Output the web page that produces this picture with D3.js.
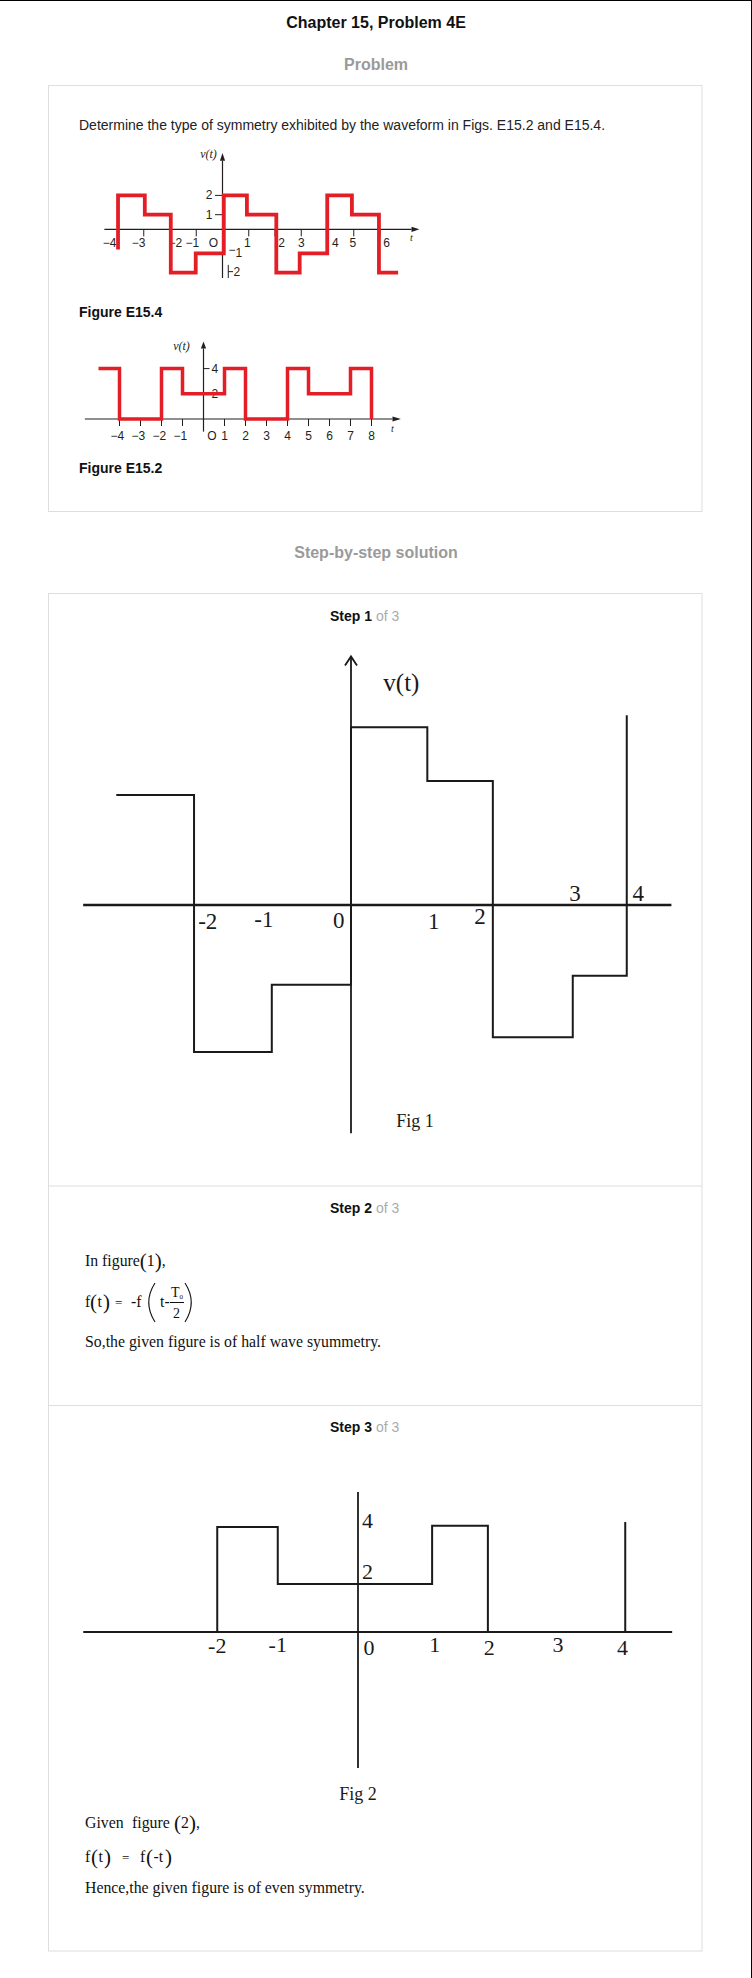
<!DOCTYPE html>
<html><head><meta charset="utf-8">
<script src="https://cdn.jsdelivr.net/npm/d3@7"></script>
<style>
html,body{margin:0;padding:0;background:#fff;}
svg{display:block;}
</style></head><body>
<svg id="page" width="752" height="1978"></svg>
<script>
// ================= DATA =================
// Figure E15.4 (textbook): step waveform vertices (t, v) drawn with step-after
const e154T = [-3.98, -3.98, -2.96, -1.97, -1.02, 0.05, 0.93, 2.05, 2.94, 3.99, 4.93, 5.96, 6.69];
const e154V = [-0.8, 2, 1, -2, -1, 2, 1, -2, -1, 2, 1, -2, -2];
const e154Ticks = [-4, -3, -2, -1, 1, 2, 3, 4, 5, 6];
const e154XLabels = ["−4", "−3", "−2", "−1", "O", "1", "2", "3", "4", "5", "6"];
const e154XLabelAt = [-4.3, -3.2, -1.8, -1.15, -0.35, 0.95, 2.25, 3.0, 4.3, 4.97, 6.25];
const e154YTicks = [2, 1];
const e154YLabels = ["2", "1"];

// Figure E15.2 (textbook)
const e152T = [-5, -4, -2, -1, 1, 2, 4, 5, 7, 8];
const e152V = [4, 0, 4, 2, 4, 0, 4, 2, 4, 0];
const e152Ticks = [-4, -3, -2, -1, 1, 2, 3, 4, 5, 6, 7, 8];
const e152XLabels = ["−4", "−3", "−2", "−1", "O", "1", "2", "3", "4", "5", "6", "7", "8"];
const e152XLabelAt = [-4.1, -3.1, -2.1, -1.1, 0.4, 1, 2, 3, 4, 5, 6, 7, 8];
const e152YTicks = [4, 2];
const e152YLabels = ["4", "2"];

// Step 1, Fig 1 (hand drawn)
const fig1T = [-3.26, -2.18, -1.10, 0, 1.06, 1.97, 3.08, 3.83];
const fig1V = [1.57, -2.1, -1.14, 2.54, 1.77, -1.89, -1.01, 2.71];
const fig1XLabels = ["-2", "-1", "0", "1", "2", "3", "4"];
const fig1XLabelAt = [-1.99, -1.21, -0.17, 1.15, 1.79, 3.11, 3.99];
const fig1XLabelV = [-0.34, -0.31, -0.33, -0.34, -0.27, 0.06, 0.06];

// Step 3, Fig 2 (hand drawn)
const fig2T = [-2.07, -2.07, -1.18, 1.09, 1.91, 3.93];
const fig2V = [0, 4.04, 1.85, 4.09, 0, 4.23];
const fig2XLabels = ["-2", "-1", "0", "1", "2", "3", "4"];
const fig2XLabelAt = [-2.07, -1.18, 0.16, 1.13, 1.93, 2.94, 3.89];
const fig2XLabelV = [-0.81, -0.77, -0.88, -0.77, -0.88, -0.77, -0.88];
const fig2YLabels = ["4", "2"];
const fig2YLabelV = [4.0, 2.04];

// ================= DRAW =================
const svg = d3.select("#page");
const SANS = "'Liberation Sans', Arial, sans-serif";
const SERIF = "'Liberation Serif', 'Times New Roman', serif";
const BODY = 15.8;

function text(x, y, s, o = {}) {
  return svg.append("text").attr("x", x).attr("y", y)
    .attr("font-family", o.family || SANS)
    .attr("font-size", o.size || 14)
    .attr("font-weight", o.weight || "normal")
    .attr("font-style", o.style || "normal")
    .attr("text-anchor", o.anchor || "start")
    .attr("fill", o.fill || "#222")
    .text(s);
}
function line(x1, y1, x2, y2, w, c) {
  return svg.append("line").attr("x1", x1).attr("y1", y1).attr("x2", x2).attr("y2", y2)
    .attr("stroke", c || "#222").attr("stroke-width", w || 1);
}
function stepPath(xs, ys, T, V) {
  const pts = T.map((t, i) => [t, V[i]]);
  return d3.line().x(d => xs(d[0])).y(d => ys(d[1])).curve(d3.curveStepAfter)(pts);
}

// page border (top / right)
line(0, 0.5, 752, 0.5, 1, "#000");
line(751.5, 0, 751.5, 1978, 1, "#000");

// headings
text(376, 28, "Chapter 15, Problem 4E", {size: 16, weight: "bold", anchor: "middle", fill: "#111"});
text(376, 70, "Problem", {size: 16, weight: "bold", anchor: "middle", fill: "#9a9a9a"});
svg.append("rect").attr("x", 48.5).attr("y", 85.5).attr("width", 653.5).attr("height", 426)
  .attr("fill", "none").attr("stroke", "#dedede");
text(79, 130, "Determine the type of symmetry exhibited by the waveform in Figs. E15.2 and E15.4.", {size: 14, fill: "#222"});

// ---------- Figure E15.4 ----------
{
  const x = d3.scaleLinear().domain([0, 1]).range([222.5, 248.75]);
  const y = d3.scaleLinear().domain([0, 1]).range([234, 214.7]);
  const axisV = 0.24;
  const ink = "#231f20";
  line(x(-4.5), y(axisV), x(7.2), y(axisV), 1.2, ink);
  svg.append("path").attr("d", d3.line()([[x(7.2), y(axisV) - 2.6], [x(7.5), y(axisV)], [x(7.2), y(axisV) + 2.6]]) + "Z").attr("fill", ink);
  e154Ticks.forEach(t => line(x(t), y(axisV), x(t), y(axisV) + 7, 1, ink));
  line(x(0), y(-2.28), x(0), y(3.8), 1.2, ink);
  svg.append("path").attr("d", d3.line()([[x(0) - 2.6, y(3.8)], [x(0), y(4.2)], [x(0) + 2.6, y(3.8)]]) + "Z").attr("fill", ink);
  e154YTicks.forEach((v, i) => {
    line(x(0) - 7.5, y(v), x(0), y(v), 1, ink);
    text(x(0) - 10, y(v) + 4, e154YLabels[i], {size: 12, anchor: "end", fill: ink});
  });
  text(x(0) + 6, y(-1) + 1, "−", {size: 12, fill: ink});
  text(x(0) + 13, y(-1) + 4, "1", {size: 12, fill: ink});
  line(x(0.22), y(-1.6), x(0.22), y(-2.28), 1, ink);
  line(x(0.22), y(-1.95), x(0.4), y(-1.95), 1, ink);
  text(x(0.42), y(-1.95) + 4.5, "2", {size: 12, fill: ink});
  e154XLabels.forEach((s, i) => text(x(e154XLabelAt[i]), 247, s, {size: 12, anchor: "middle", fill: ink}));
  text(x(0) - 14, 158, "v(t)", {size: 12, family: SERIF, style: "italic", anchor: "middle", fill: ink});
  text(x(7.2), 241, "t", {size: 10, family: SERIF, style: "italic", anchor: "middle", fill: ink});
  svg.append("path").attr("d", stepPath(x, y, e154T, e154V))
    .attr("fill", "none").attr("stroke", "#e31e26").attr("stroke-width", 3.8);
}
text(79, 317, "Figure E15.4", {size: 14, weight: "bold", fill: "#111"});

// ---------- Figure E15.2 ----------
{
  const x = d3.scaleLinear().domain([0, 1]).range([203.5, 224.5]);
  const y = d3.scaleLinear().domain([0, 1]).range([419, 406.4]);
  const ink = "#231f20";
  line(x(-5.65), y(0), x(9.0), y(0), 1.2, ink);
  svg.append("path").attr("d", d3.line()([[x(9.0), y(0) - 2.6], [x(9.4), y(0)], [x(9.0), y(0) + 2.6]]) + "Z").attr("fill", ink);
  e152Ticks.forEach(t => line(x(t), y(0), x(t), y(0) + 7, 1, ink));
  line(x(0), y(-1), x(0), y(5.6), 1.2, ink);
  svg.append("path").attr("d", d3.line()([[x(0) - 2.6, y(5.6)], [x(0), y(6.15)], [x(0) + 2.6, y(5.6)]]) + "Z").attr("fill", ink);
  e152YTicks.forEach((v, i) => {
    line(x(0), y(v), x(0) + 6, y(v), 1, ink);
    text(x(0) + 8, y(v) + 4, e152YLabels[i], {size: 12, fill: ink});
  });
  e152XLabels.forEach((s, i) => text(x(e152XLabelAt[i]), 440, s, {size: 12, anchor: "middle", fill: ink}));
  text(x(0) - 22, 350, "v(t)", {size: 12, family: SERIF, style: "italic", anchor: "middle", fill: ink});
  text(x(9.0), 432, "t", {size: 10, family: SERIF, style: "italic", anchor: "middle", fill: ink});
  svg.append("path").attr("d", stepPath(x, y, e152T, e152V))
    .attr("fill", "none").attr("stroke", "#e31e26").attr("stroke-width", 3.5);
}
text(79, 473, "Figure E15.2", {size: 14, weight: "bold", fill: "#111"});

// ---------- Solution ----------
text(376, 558, "Step-by-step solution", {size: 16, weight: "bold", anchor: "middle", fill: "#9a9a9a"});
svg.append("rect").attr("x", 48.5).attr("y", 593.5).attr("width", 653.5).attr("height", 1357.5)
  .attr("fill", "none").attr("stroke", "#dedede");
line(48.5, 1186, 702, 1186, 1, "#dedede");
line(48.5, 1405.5, 702, 1405.5, 1, "#dedede");

function stepHeader(yb, n) {
  const t = svg.append("text").attr("x", 330).attr("y", yb).attr("font-family", SANS).attr("font-size", 14);
  t.append("tspan").attr("font-weight", "bold").attr("fill", "#111").text("Step " + n);
  t.append("tspan").attr("fill", "#aaa").text(" of 3");
}
stepHeader(621, 1);
stepHeader(1213, 2);
stepHeader(1432, 3);

// ---------- Fig 1 ----------
{
  const x = d3.scaleLinear().domain([0, 1]).range([351, 423]);
  const y = d3.scaleLinear().domain([0, 1]).range([905, 835]);
  const ink = "#1a1a1a";
  line(x(-3.72), y(0), x(4.45), y(0), 2.4, ink);
  line(x(0), y(-3.26), x(0), y(3.55), 1.8, ink);
  svg.append("path").attr("d", d3.line()([[x(0) - 6, y(3.42)], [x(0), y(3.55)], [x(0) + 6, y(3.42)]]))
    .attr("fill", "none").attr("stroke", ink).attr("stroke-width", 1.8);
  svg.append("path").attr("d", stepPath(x, y, fig1T, fig1V))
    .attr("fill", "none").attr("stroke", ink).attr("stroke-width", 2);
  fig1XLabels.forEach((s, i) => text(x(fig1XLabelAt[i]), y(fig1XLabelV[i]), s,
    {size: 23, family: SERIF, anchor: "middle", fill: ink}));
  text(x(0.7), 691, "v(t)", {size: 25, family: SERIF, anchor: "middle", fill: ink});
  text(415, 1127, "Fig 1", {size: 18, family: SERIF, anchor: "middle", fill: ink});
}

// ---------- Step 2 text ----------
{
  const t = svg.append("text").attr("x", 85).attr("y", 1266).attr("font-family", SERIF).attr("font-size", BODY).attr("fill", "#111");
  t.append("tspan").text("In figure");
  t.append("tspan").attr("font-size", 21).attr("dy", 1.5).text("(");
  t.append("tspan").attr("dy", -1.5).text("1");
  t.append("tspan").attr("font-size", 21).attr("dy", 1.5).text(")");
  t.append("tspan").attr("dy", -1.5).text(",");

  const o = {family: SERIF, size: BODY, fill: "#111"};
  text(85, 1307, "f", o);
  text(90, 1308.5, "(", {...o, size: 21});
  text(97.5, 1307, "t", o);
  text(103, 1308.5, ")", {...o, size: 21});
  text(115, 1307, "=", {...o, size: 13});
  text(131, 1307, "-f", o);
  svg.append("path").attr("d", "M155,1283 Q142.5,1302.5 155,1322").attr("fill", "none").attr("stroke", "#111").attr("stroke-width", 1.1);
  svg.append("path").attr("d", "M185,1283 Q197.5,1302.5 185,1322").attr("fill", "none").attr("stroke", "#111").attr("stroke-width", 1.1);
  text(160, 1307, "t-", o);
  text(171, 1297, "T", {...o, size: 14});
  text(179.5, 1299, "0", {...o, size: 7});
  line(170, 1302.5, 184, 1302.5, 1, "#111");
  text(173, 1318, "2", {...o, size: 14});
  text(85, 1347, "So,the given figure is of half wave syummetry.", o);
}

// ---------- Fig 2 ----------
{
  const x = d3.scaleLinear().domain([0, 1]).range([358, 426]);
  const y = d3.scaleLinear().domain([0, 1]).range([1632, 1606]);
  const ink = "#1a1a1a";
  line(x(-4.04), y(0), x(4.62), y(0), 2.2, ink);
  line(x(0), y(-5.23), x(0), y(5.38), 1.8, ink);
  svg.append("path").attr("d", stepPath(x, y, fig2T, fig2V))
    .attr("fill", "none").attr("stroke", ink).attr("stroke-width", 2);
  fig2XLabels.forEach((s, i) => text(x(fig2XLabelAt[i]), y(fig2XLabelV[i]), s,
    {size: 22, family: SERIF, anchor: "middle", fill: ink}));
  fig2YLabels.forEach((s, i) => text(x(0) + 4, y(fig2YLabelV[i]), s,
    {size: 22, family: SERIF, fill: ink}));
  text(358, 1800, "Fig 2", {size: 18, family: SERIF, anchor: "middle", fill: ink});
}

// ---------- Step 3 text ----------
{
  const o = {family: SERIF, size: BODY, fill: "#111"};
  text(85, 1828, "Given", o);
  text(132, 1828, "figure", o);
  text(174, 1829.5, "(", {...o, size: 21});
  text(181, 1828, "2", o);
  text(189, 1829.5, ")", {...o, size: 21});
  text(196, 1828, ",", o);

  text(85, 1862, "f", o);
  text(91, 1863.5, "(", {...o, size: 21});
  text(98.5, 1862, "t", o);
  text(104, 1863.5, ")", {...o, size: 21});
  text(122, 1862, "=", {...o, size: 13});
  text(140, 1862, "f", o);
  text(146, 1863.5, "(", {...o, size: 21});
  text(153.5, 1862, "-t", o);
  text(165, 1863.5, ")", {...o, size: 21});
  text(85, 1893, "Hence,the given figure is of even symmetry.", o);
}
</script>
</body></html>
